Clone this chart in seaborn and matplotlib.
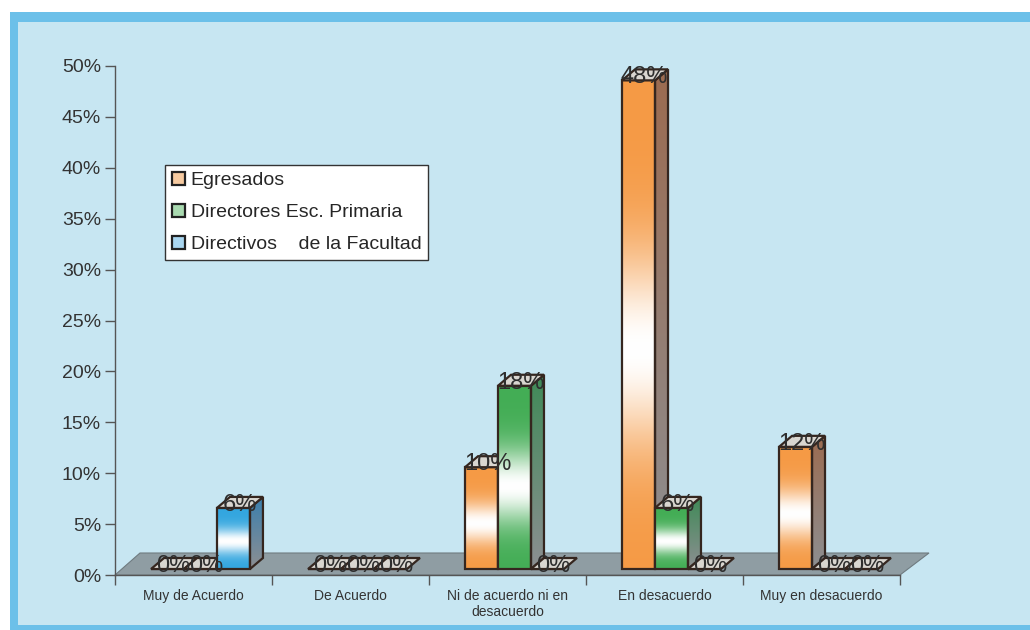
import numpy as np
import pandas as pd
import matplotlib
matplotlib.use("Agg")
import matplotlib.pyplot as plt
import seaborn as sns
from matplotlib.patches import Rectangle, Polygon, Patch
from matplotlib.transforms import ScaledTranslation, IdentityTransform
from matplotlib.colors import to_rgb

# ---- data -------------------------------------------------------------
categorias = ["Muy de Acuerdo", "De Acuerdo", "Ni de acuerdo ni en\ndesacuerdo",
              "En desacuerdo", "Muy en desacuerdo"]
grupos = ["Egresados", "Directores Esc. Primaria", "Directivos    de la Facultad"]
egresados = [0, 0, 10, 48, 12]
directores = [0, 0, 18, 6, 0]
directivos = [6, 0, 0, 0, 0]
y_ticks = [0, 5, 10, 15, 20, 25, 30, 35, 40, 45, 50]

# ---- style ------------------------------------------------------------
colores = ["#f59a45", "#43ad55", "#33a6df"]
laterales = ["#9c6b50", "#3f8a57", "#3a7fae"]
leyenda_fill = ["#f6caa0", "#a9dab0", "#a9d6f0"]
borde = "#35261f"
fondo = "#c7e6f2"
marco = "#6cc0e9"
piso = "#8f9da3"

sns.set_theme(style="white")
plt.rcParams["font.family"] = ["Liberation Sans", "DejaVu Sans"]

W, H = 1030, 630
fig = plt.figure(figsize=(W / 100, H / 100), dpi=100)
fig.patch.set_facecolor("white")
fig.add_artist(Rectangle((10 / W, 0), 1, (H - 12) / H, transform=fig.transFigure,
                         facecolor=marco, edgecolor="none", zorder=-10))
fig.add_artist(Rectangle((18 / W, 5 / H), 1, (H - 27) / H, transform=fig.transFigure,
                         facecolor=fondo, edgecolor="none", zorder=-9))

ax = fig.add_axes([115 / W, 55 / H, 785 / W, 509 / H])
ax.set_facecolor("none")

df = pd.DataFrame({
    "categoria": categorias * 3,
    "grupo": np.repeat(grupos, len(categorias)),
    "valor": egresados + directores + directivos,
})

sns.barplot(data=df, x="categoria", y="valor", hue="grupo", order=categorias,
            hue_order=grupos, palette=colores, width=0.63, edgecolor=borde,
            linewidth=1.6, legend=False, ax=ax, zorder=3)

ax.set_xlim(-0.5, len(categorias) - 0.5)
ax.set_ylim(0, 50)

px = 1 / 100.0
# bars sit slightly behind the front edge of the floor
shift = ax.transData + ScaledTranslation(7 * px, 6 * px, fig.dpi_scale_trans)
dx, dy = 13, 11          # depth of each bar (pixels)
ident = IdentityTransform()

# floor
f0 = ax.transData.transform((-0.5, 0))
f1 = ax.transData.transform((len(categorias) - 0.5, 0))
floor = Polygon([f0, f1, f1 + (29, 22), f0 + (25, 22)], closed=True,
                transform=ident, facecolor=piso, edgecolor="#6f7b80",
                linewidth=0.8, zorder=1, clip_on=False)
ax.add_patch(floor)


def gradiente(color, blanco=0.45, n=256):
    c = np.array(to_rgb(color))
    t = np.linspace(0, 1, n)  # 0 = bottom, 1 = top
    w = np.exp(-((t - blanco) / 0.2) ** 2)
    rgb = c[None, :] * (1 - w[:, None]) + w[:, None]
    return rgb[::-1, None, :]  # image rows go top -> bottom


def gradiente_lateral(color, n=256):
    c = np.array(to_rgb(color))
    g = np.array(to_rgb("#8d8f92"))
    t = np.linspace(0, 1, n)[:, None]
    rgb = g * (1 - t) + c * t
    return rgb[::-1, None, :]


valores = [egresados, directores, directivos]
bars = [b for b in ax.patches if b is not floor]
registros = []
for i, b in enumerate(bars):
    g = i // len(categorias)
    k = i % len(categorias)
    registros.append((b.get_x(), b, g, k))
registros.sort(key=lambda r: r[0])

for orden, (_, b, g, k) in enumerate(registros):
    z = 3 + orden * 0.05
    x0, w, h = b.get_x(), b.get_width(), b.get_height()
    X0, Y0 = shift.transform((x0, 0))
    X1, Y1 = shift.transform((x0 + w, h))
    b.set_transform(shift)
    b.set_facecolor("none")
    b.set_zorder(z + 0.02)
    b.set_clip_on(False)
    if h > 0:
        im = ax.imshow(gradiente(colores[g]), extent=(x0, x0 + w, 0, h),
                       aspect="auto", interpolation="bilinear", zorder=z)
        im.set_transform(shift)
        im.set_clip_path(b)
        side = Polygon([(X1, Y0), (X1, Y1), (X1 + dx, Y1 + dy), (X1 + dx, Y0 + dy)],
                       closed=True, transform=ident, facecolor="none",
                       edgecolor=borde, linewidth=1.6, zorder=z + 0.02,
                       clip_on=False)
        ax.add_patch(side)
        ims = ax.imshow(gradiente_lateral(laterales[g]),
                        extent=(X1, X1 + dx, Y0, Y1 + dy), aspect="auto",
                        interpolation="bilinear", zorder=z)
        ims.set_transform(ident)
        ims.set_clip_path(side)
    top = Polygon([(X0, Y1), (X1, Y1), (X1 + dx, Y1 + dy), (X0 + dx, Y1 + dy)],
                  closed=True, transform=ident, facecolor="#d9d6d0",
                  edgecolor=borde, linewidth=1.6, zorder=z + 0.03, clip_on=False)
    ax.add_patch(top)
    ax.text(x0 + w / 2, valores[g][k], f"{valores[g][k]}%",
            transform=ax.transData + ScaledTranslation(13 * px, 3 * px, fig.dpi_scale_trans),
            ha="center", va="baseline", fontsize=17, color="#2e2e2e", zorder=6,
            clip_on=False)

ax.set_xlim(-0.5, len(categorias) - 0.5)
ax.set_ylim(0, 50)

# axes and ticks
ax.set_xlabel("")
ax.set_ylabel("")
ax.set_yticks(y_ticks)
ax.set_yticklabels([f"{v}%" for v in y_ticks], fontsize=14, color="#333333")
ax.set_xticks(range(len(categorias)))
ax.set_xticklabels(categorias, fontsize=10, color="#333333")
ax.set_xticks(np.arange(-0.5, len(categorias)), minor=True)
ax.tick_params(axis="x", which="major", length=0, pad=10)
ax.tick_params(axis="x", which="minor", length=7, width=1, color="#555555",
               direction="out", bottom=True)
ax.tick_params(axis="y", length=7, width=1, color="#555555", direction="out",
               left=True, pad=3)
for s in ["top", "right"]:
    ax.spines[s].set_visible(False)
ax.spines["left"].set_color("#555555")
ax.spines["left"].set_linewidth(1)
ax.spines["bottom"].set_color("#555555")
ax.spines["bottom"].set_linewidth(1)
ax.grid(False)

# legend
handles = [Patch(facecolor=leyenda_fill[i], edgecolor="#222222", linewidth=1.6,
                 label=grupos[i]) for i in range(3)]
leg = ax.legend(handles=handles, loc="upper left", bbox_to_anchor=(0.064, 0.805),
                borderaxespad=0, fontsize=14, frameon=True, fancybox=False,
                framealpha=1, edgecolor="#333333", handlelength=0.65,
                handleheight=0.65, handletextpad=0.3, labelspacing=0.75,
                borderpad=0.35)
leg.get_frame().set_linewidth(1)
leg.set_zorder(10)

fig.savefig("out.png", dpi=100)
